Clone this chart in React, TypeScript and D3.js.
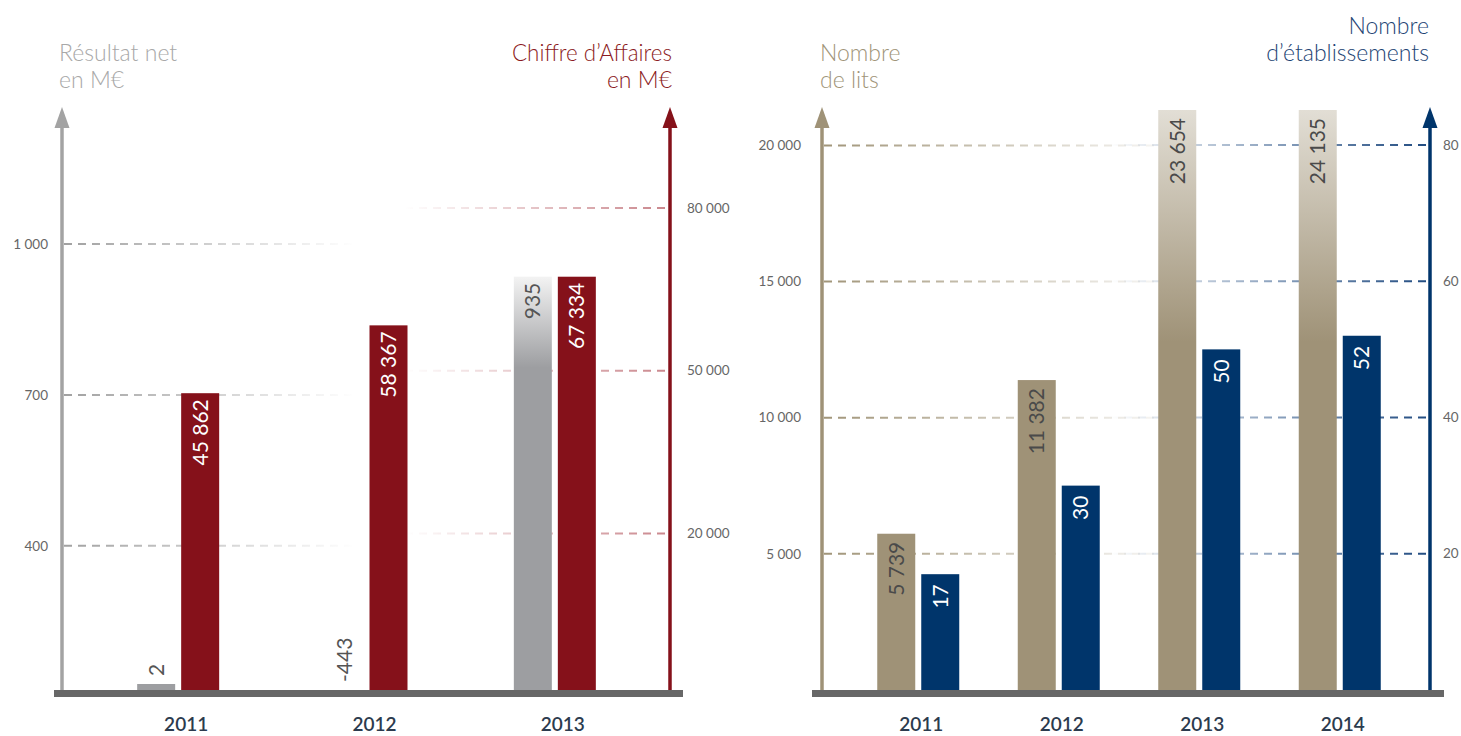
import React from 'react';
import * as d3 from 'd3';

// ---- data ----
const years1 = ['2011', '2012', '2013'];
const resultat = [2, -443, 935];
const chiffreAffaires = [45862, 58367, 67334];
const resultatTicks = [400, 700, 1000];
const caTicks = [20000, 50000, 80000];

const years2 = ['2011', '2012', '2013', '2014'];
const lits = [5739, 11382, 23654, 24135];
const etablissements = [17, 30, 50, 52];
const litsTicks = [5000, 10000, 15000, 20000];
const etabTicks = [20, 40, 60, 80];

const fr = d3.formatLocale({ decimal: ',', thousands: ' ', grouping: [3], currency: ['', '€'], minus: '-' });
const fmt = fr.format(',d');

const W = 1461;
const H = 736;
const BASE = 690;
const FONT = 'Lato, "Open Sans", sans-serif';

const GRAY = '#9d9ea1';
const RED = '#85111a';
const TAN = '#9f9277';
const NAVY = '#00356b';

function Arrow({ x, color }: { x: number; color: string }) {
  return (
    <g>
      <line x1={x} x2={x} y1={125} y2={BASE} stroke={color} strokeWidth={3.5} />
      <polygon points={`${x},107 ${x - 7.5},128 ${x + 7.5},128`} fill={color} />
    </g>
  );
}

export default function App() {
  // ----- left chart -----
  const x1 = d3.scaleBand<string>().domain(years1).range([84, 649]);
  const yRes = d3.scaleLinear().domain([0, 1000]).range([747, 244]);
  const yCA = d3.scaleLinear().domain([0, 80000]).range([642, 208]);

  // ----- right chart -----
  const x2 = d3.scaleBand<string>().domain(years2).range([848, 1410]);
  const yLits = d3.scaleLinear().domain([0, 21300]).range([BASE, 110]).clamp(true);
  const yEtab = d3.scaleLinear().domain([0, 80]).range([BASE, 145]);

  const bw = 38;
  const gap = 3;
  const resMax = d3.max(resultat) as number;
  const litsMax = yLits.domain()[1];

  const labelStyle = { fontFamily: FONT, fontSize: 21, fontWeight: 400 } as const;
  const tickStyle = { fontFamily: FONT, fontSize: 13.5, fill: '#666' } as const;
  const titleStyle = { fontFamily: FONT, fontWeight: 300, fontSize: 23 } as const;

  return (
    <svg width={W} height={H} style={{ position: 'absolute', left: 0, top: 0, background: '#fff' }}>
      <defs>
        <linearGradient id="gGray" gradientUnits="userSpaceOnUse" x1={62} x2={355} y1={0} y2={0}>
          <stop offset="0" stopColor="#a0a0a0" stopOpacity={1} />
          <stop offset="1" stopColor="#a0a0a0" stopOpacity={0} />
        </linearGradient>
        <linearGradient id="gRed" gradientUnits="userSpaceOnUse" x1={670} x2={405} y1={0} y2={0}>
          <stop offset="0" stopColor="#c07077" stopOpacity={0.85} />
          <stop offset="1" stopColor="#c07077" stopOpacity={0} />
        </linearGradient>
        <linearGradient id="gTan" gradientUnits="userSpaceOnUse" x1={822} x2={1190} y1={0} y2={0}>
          <stop offset="0" stopColor="#a09478" stopOpacity={1} />
          <stop offset="1" stopColor="#a09478" stopOpacity={0} />
        </linearGradient>
        <linearGradient id="gNavy" gradientUnits="userSpaceOnUse" x1={1430} x2={1110} y1={0} y2={0}>
          <stop offset="0" stopColor="#1f4a80" stopOpacity={1} />
          <stop offset="1" stopColor="#1f4a80" stopOpacity={0} />
        </linearGradient>
        <linearGradient id="barGray" x1="0" x2="0" y1="0" y2="1">
          <stop offset="0" stopColor="#f3f3f3" />
          <stop offset="0.22" stopColor={GRAY} />
          <stop offset="1" stopColor={GRAY} />
        </linearGradient>
        <linearGradient id="barTan" x1="0" x2="0" y1="0" y2="1">
          <stop offset="0" stopColor="#e2ded5" />
          <stop offset="0.4" stopColor={TAN} />
          <stop offset="1" stopColor={TAN} />
        </linearGradient>
      </defs>

      {/* ===== LEFT CHART ===== */}
      {resultatTicks.map((t) => (
        <g key={'rt' + t}>
          <line x1={64} x2={355} y1={yRes(t)} y2={yRes(t)} stroke="url(#gGray)" strokeWidth={2} strokeDasharray="8 6" />
          <text x={48} y={yRes(t)} dy="0.35em" textAnchor="end" {...tickStyle}>
            {fmt(t)}
          </text>
        </g>
      ))}
      {caTicks.map((t) => (
        <g key={'ct' + t}>
          <line x1={405} x2={668} y1={yCA(t)} y2={yCA(t)} stroke="url(#gRed)" strokeWidth={2} strokeDasharray="8 6" />
          <text x={687} y={yCA(t)} dy="0.35em" textAnchor="start" {...tickStyle}>
            {fmt(t)}
          </text>
        </g>
      ))}

      {years1.map((yr, i) => {
        const c = (x1(yr) as number) + x1.bandwidth() / 2;
        const r = resultat[i];
        const a = chiffreAffaires[i];
        const gx = c - gap - bw;
        const rx = c + gap;
        const gTop = r > 0 ? Math.min(yRes(r), BASE - 6) : BASE;
        const gH = BASE - gTop;
        const rTop = yCA(a);
        const inside = gH > 60;
        return (
          <g key={yr}>
            {r > 0 && (
              <rect x={gx} y={gTop} width={bw} height={gH} fill={r === resMax ? 'url(#barGray)' : GRAY} />
            )}
            <text
              transform={`translate(${gx + bw / 2},${inside ? gTop + 6 : gTop - 8}) rotate(-90)`}
              textAnchor={inside ? 'end' : 'start'}
              dy="0.35em"
              {...labelStyle}
              fill="#555"
            >
              {fmt(r)}
            </text>
            <rect x={rx} y={rTop} width={bw} height={BASE - rTop} fill={RED} />
            <text
              transform={`translate(${rx + bw / 2},${rTop + 6}) rotate(-90)`}
              textAnchor="end"
              dy="0.35em"
              {...labelStyle}
              fill="#fff"
            >
              {fmt(a)}
            </text>
            <text x={c + 8} y={731} textAnchor="middle" fontFamily={FONT} fontSize={19} fontWeight={600} fill="#2c3b4e">
              {yr}
            </text>
          </g>
        );
      })}

      <Arrow x={62} color="#a3a3a3" />
      <Arrow x={670} color={RED} />
      <rect x={54} y={BASE} width={629} height={7} fill="#676767" />

      <text {...titleStyle} fill="#a8a8a8">
        <tspan x={59} y={61}>Résultat net</tspan>
        <tspan x={59} y={88}>en M€</tspan>
      </text>
      <text {...titleStyle} fill="#8b1a22" textAnchor="end">
        <tspan x={672} y={61} textLength={160} lengthAdjust="spacingAndGlyphs">Chiffre d’Affaires</tspan>
        <tspan x={672} y={88}>en M€</tspan>
      </text>

      {/* ===== RIGHT CHART ===== */}
      {litsTicks.map((t) => (
        <g key={'lt' + t}>
          <line x1={824} x2={1190} y1={yLits(t)} y2={yLits(t)} stroke="url(#gTan)" strokeWidth={2} strokeDasharray="8 6" />
          <text x={801} y={yLits(t)} dy="0.35em" textAnchor="end" {...tickStyle}>
            {fmt(t)}
          </text>
        </g>
      ))}
      {etabTicks.map((t) => (
        <g key={'et' + t}>
          <line x1={1110} x2={1428} y1={yEtab(t)} y2={yEtab(t)} stroke="url(#gNavy)" strokeWidth={2} strokeDasharray="8 6" />
          <text x={1443} y={yEtab(t)} dy="0.35em" textAnchor="start" {...tickStyle}>
            {fmt(t)}
          </text>
        </g>
      ))}

      {years2.map((yr, i) => {
        const c = (x2(yr) as number) + x2.bandwidth() / 2;
        const l = lits[i];
        const e = etablissements[i];
        const lx = c - gap - bw;
        const ex = c + gap;
        const lTop = yLits(l);
        const eTop = yEtab(e);
        return (
          <g key={'r' + yr}>
            <rect x={lx} y={lTop} width={bw} height={BASE - lTop} fill={l > litsMax ? 'url(#barTan)' : TAN} />
            <text
              transform={`translate(${lx + bw / 2},${lTop + 8}) rotate(-90)`}
              textAnchor="end"
              dy="0.35em"
              {...labelStyle}
              fill="#4a4a4a"
            >
              {fmt(l)}
            </text>
            <rect x={ex} y={eTop} width={bw} height={BASE - eTop} fill={NAVY} />
            <text
              transform={`translate(${ex + bw / 2},${eTop + 10}) rotate(-90)`}
              textAnchor="end"
              dy="0.35em"
              {...labelStyle}
              fill="#fff"
            >
              {fmt(e)}
            </text>
            <text x={c + 3} y={731} textAnchor="middle" fontFamily={FONT} fontSize={19} fontWeight={600} fill="#2c3b4e">
              {yr}
            </text>
          </g>
        );
      })}

      <Arrow x={822} color={TAN} />
      <Arrow x={1430} color={NAVY} />
      <rect x={812} y={BASE} width={632} height={7} fill="#676767" />

      <text {...titleStyle} fill="#a09478">
        <tspan x={820} y={61}>Nombre</tspan>
        <tspan x={820} y={88}>de lits</tspan>
      </text>
      <text {...titleStyle} fill="#1d4474" textAnchor="end">
        <tspan x={1429} y={34}>Nombre</tspan>
        <tspan x={1429} y={61}>d’établissements</tspan>
      </text>
    </svg>
  );
}
